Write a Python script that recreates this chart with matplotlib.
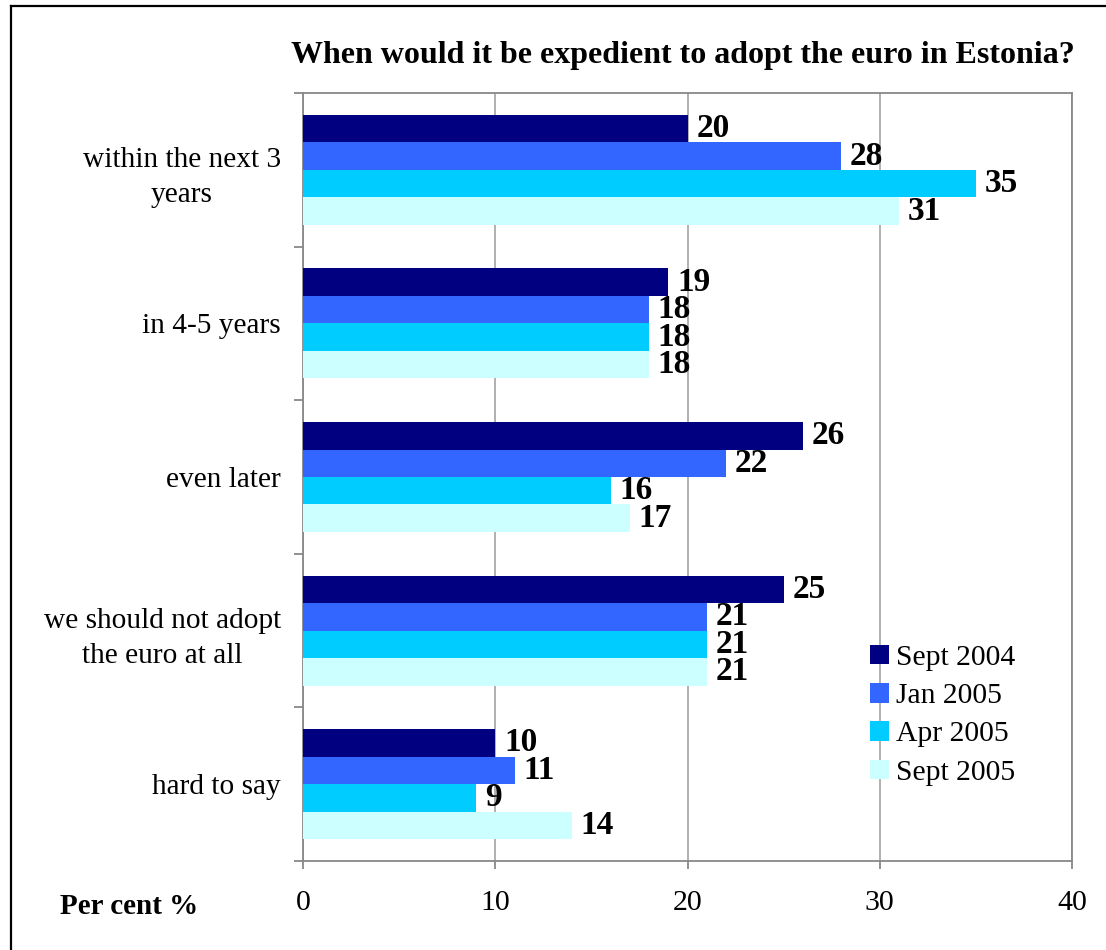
import numpy as np
import matplotlib
matplotlib.use("Agg")
import matplotlib.pyplot as plt
from matplotlib.lines import Line2D

plt.rcParams['font.family'] = ['Liberation Serif', 'DejaVu Serif']

# Survey answers
categories = ["within the next 3\nyears", "in 4-5 years", "even later",
              "we should not adopt\nthe euro at all", "hard to say"]
sept_2004 = [20, 19, 26, 25, 10]
jan_2005 = [28, 18, 22, 21, 11]
apr_2005 = [35, 18, 16, 21, 9]
sept_2005 = [31, 18, 17, 21, 14]

series = [("Sept 2004", sept_2004, "#000080"),
          ("Jan 2005", jan_2005, "#3366FF"),
          ("Apr 2005", apr_2005, "#00CCFF"),
          ("Sept 2005", sept_2005, "#CCFFFF")]

fig = plt.figure(figsize=(11.06, 9.5), dpi=100)
ax = fig.add_axes([0.274, 0.0937, 0.6953, 0.8084])

y = np.arange(len(categories))
h = 0.179
for k, (name, vals, col) in enumerate(series):
    pos = y + (k - 1.5) * h
    ax.barh(pos, vals, height=h, color=col, label=name, zorder=3)
    for p, v in zip(pos, vals):
        ax.text(v + 0.45, p, str(v), va='center', ha='left',
                fontsize=24, fontweight='bold', zorder=4)

ax.set_xlim(0, 40)
ax.set_ylim(len(categories) - 0.5, -0.5)
ax.set_xticks([0, 10, 20, 30, 40])
ax.tick_params(axis='x', labelsize=21.5, length=6, color='#888888',
               width=1.3, pad=15)
ax.xaxis.grid(True, color='#aaaaaa', linewidth=1.3, zorder=0)

# boundaries get the tick marks, centres get the labels
ax.set_yticks(np.arange(-0.5, len(categories)), minor=False)
ax.set_yticklabels([])
ax.tick_params(axis='y', which='major', length=6.5, color='#888888', width=1.3)
ax.set_yticks(y, minor=True)
ax.set_yticklabels(categories, minor=True, fontsize=21.2, multialignment='center',
                   linespacing=1.45)
ax.tick_params(axis='y', which='minor', length=0, pad=16)

for s in ax.spines.values():
    s.set_color('#888888')
    s.set_linewidth(1.3)

fig.text(0.6174, 0.942, "When would it be expedient to adopt the euro in Estonia?",
         ha='center', va='center', fontsize=23, fontweight='bold')
fig.text(0.117, 0.046, "Per cent %", ha='center', va='center',
         fontsize=21, fontweight='bold')

ax.legend(loc='upper left', bbox_to_anchor=(0.773, 0.337), bbox_transform=fig.transFigure,
          frameon=False, fontsize=21.3, handlelength=0.64, handleheight=0.64,
          handletextpad=0.25, labelspacing=0.41, borderpad=0)

fig.add_artist(Line2D([0.0095, 0.0095], [0.0, 0.9937], color='black', linewidth=1.6))
fig.add_artist(Line2D([0.0095, 1.0], [0.9937, 0.9937], color='black', linewidth=1.6))

fig.savefig("out.png", dpi=100)
